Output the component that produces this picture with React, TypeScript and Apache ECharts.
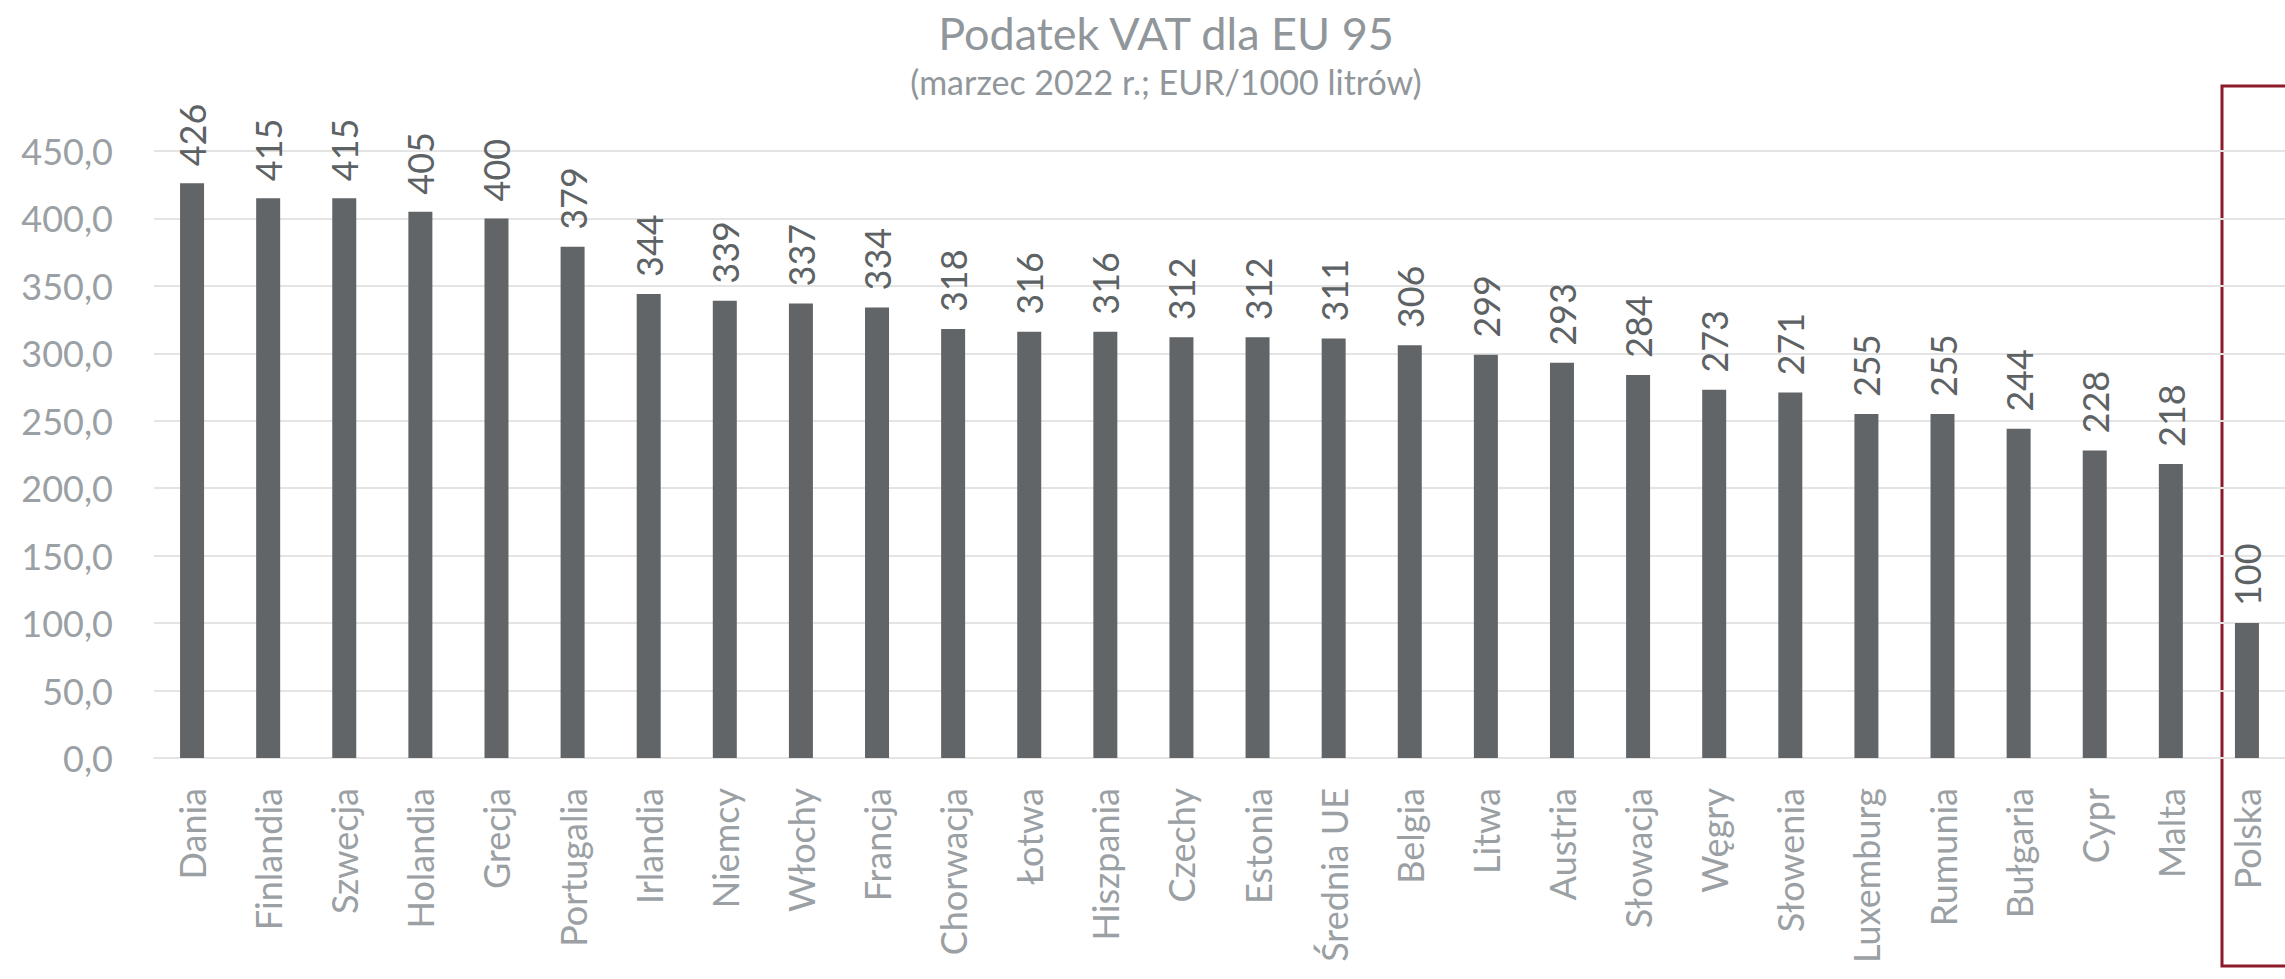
import React, { useEffect, useRef } from "react";
import * as echarts from "echarts";

const categories = [
  "Dania", "Finlandia", "Szwecja", "Holandia", "Grecja", "Portugalia", "Irlandia",
  "Niemcy", "Włochy", "Francja", "Chorwacja", "Łotwa", "Hiszpania", "Czechy",
  "Estonia", "Średnia UE", "Belgia", "Litwa", "Austria", "Słowacja", "Węgry",
  "Słowenia", "Luxemburg", "Rumunia", "Bułgaria", "Cypr", "Malta", "Polska",
];
const values = [
  426, 415, 415, 405, 400, 379, 344, 339, 337, 334, 318, 316, 316, 312, 312, 311,
  306, 299, 293, 284, 273, 271, 255, 255, 244, 228, 218, 100,
];
const titleText = "Podatek VAT dla EU 95";
const subtitleText = "(marzec 2022 r.; EUR/1000 litrów)";

const FONT = "Lato, 'Open Sans', sans-serif";

export default function App() {
  const ref = useRef<HTMLDivElement>(null);
  useEffect(() => {
    if (!ref.current) return;
    const chart = echarts.init(ref.current, undefined, { renderer: "svg" });
    chart.setOption({
      animation: false,
      backgroundColor: "#ffffff",
      textStyle: { fontFamily: FONT },
      title: [
        {
          text: titleText,
          left: 1161,
          textAlign: "center",
          top: 5,
          textStyle: { fontFamily: FONT, fontSize: 45, fontWeight: "normal", color: "#90969a" },
        },
        {
          text: subtitleText,
          left: 1161,
          textAlign: "center",
          top: 59,
          textStyle: { fontFamily: FONT, fontSize: 34, fontWeight: "normal", color: "#90969a" },
        },
      ],
      grid: { left: 154, right: -18, top: 151, bottom: 221, containLabel: false },
      xAxis: {
        type: "category",
        data: categories,
        axisLine: { show: true, lineStyle: { color: "#e4e4e4", width: 2 } },
        axisTick: { show: false },
        axisLabel: {
          rotate: 90,
          interval: 0,
          margin: 30,
          fontFamily: FONT,
          fontSize: 36,
          color: "#9aa0a3",
        },
      },
      yAxis: {
        type: "value",
        min: 0,
        max: 450,
        interval: 50,
        axisLine: { show: false },
        axisTick: { show: false },
        splitLine: { lineStyle: { color: "#e4e4e4", width: 2 } },
        axisLabel: {
          margin: 41,
          fontFamily: FONT,
          fontSize: 36,
          color: "#9aa0a3",
          formatter: (v: number) => v.toFixed(1).replace(".", ","),
        },
      },
      series: [
        {
          type: "bar",
          data: values,
          barWidth: 24,
          itemStyle: { color: "#616568" },
          label: {
            show: true,
            position: "top",
            rotate: 90,
            align: "left",
            verticalAlign: "middle",
            distance: 17,
            fontFamily: FONT,
            fontSize: 36,
            color: "#5d6265",
          },
        },
      ],
      graphic: [
        {
          type: "rect",
          shape: { x: 2222, y: 86, width: 120, height: 880 },
          style: { fill: "none", stroke: "#8c1a2b", lineWidth: 3 },
          silent: true,
        },
      ],
    });
    return () => chart.dispose();
  }, []);
  return (
    <div
      ref={ref}
      style={{ position: "absolute", left: 0, top: 0, width: 2285, height: 979 }}
    />
  );
}
